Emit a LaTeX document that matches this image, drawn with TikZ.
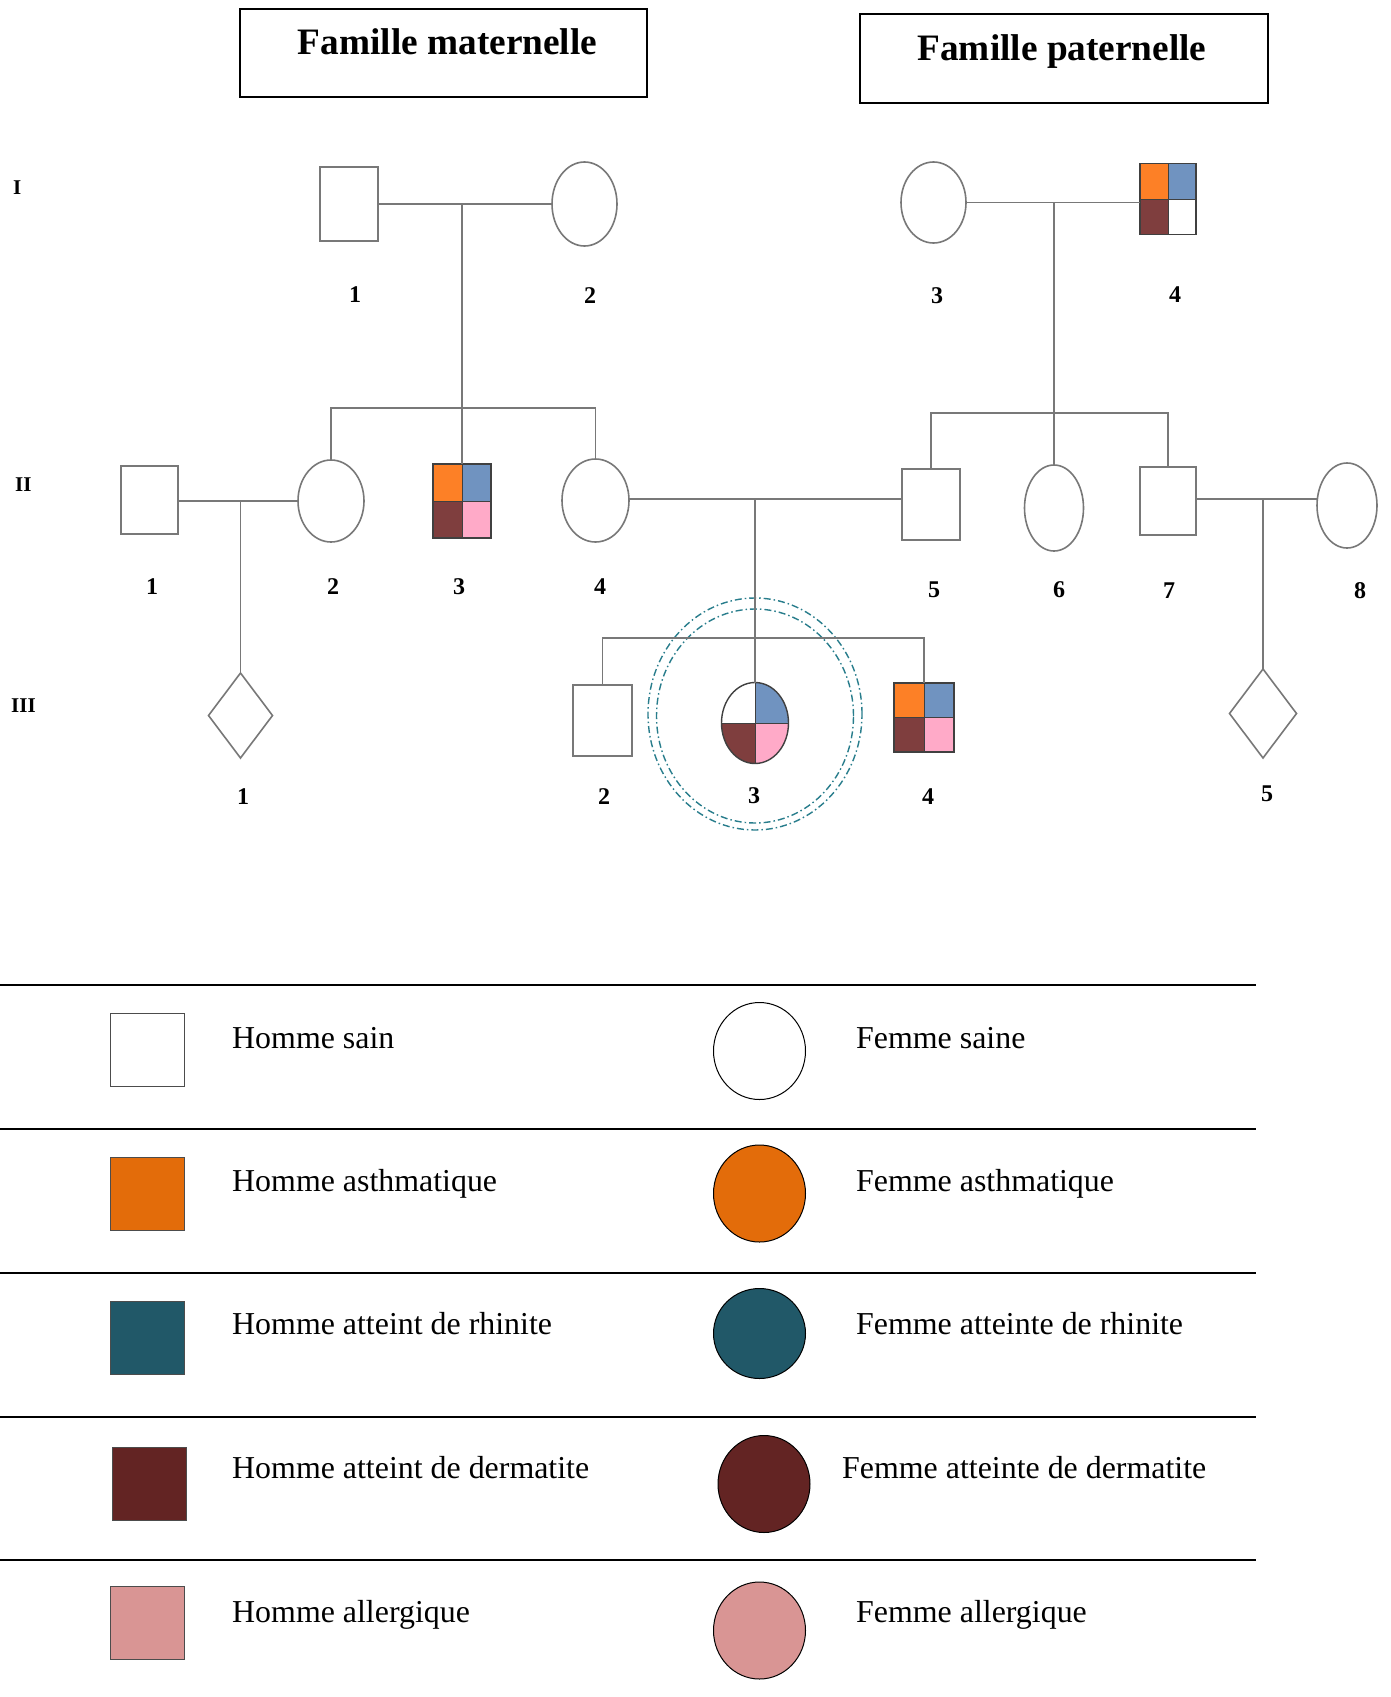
\documentclass[tikz,border=0pt]{standalone}
\usepackage{fontspec}
\setmainfont{Liberation Serif}
\usetikzlibrary{shapes.geometric}
\definecolor{lgray}{RGB}{120,120,120}
\definecolor{qorange}{RGB}{253,128,38}
\definecolor{qblue}{RGB}{112,147,192}
\definecolor{qbrown}{RGB}{127,62,62}
\definecolor{qpink}{RGB}{255,170,200}
\definecolor{lorange}{RGB}{227,108,10}
\definecolor{lteal}{RGB}{33,88,104}
\definecolor{ldark}{RGB}{99,36,35}
\definecolor{lpink}{RGB}{217,149,148}
\definecolor{circteal}{RGB}{40,125,140}
\begin{document}
\begin{tikzpicture}[x=1pt,y=-1pt,
  sz/.style 2 args={minimum width=#1pt, minimum height=#2pt},
  pline/.style={draw=lgray, line width=1.6pt},
  male/.style={rectangle, draw=lgray, line width=1.6pt, inner sep=0pt, outer sep=0pt, fill=white},
  female/.style={ellipse, draw=lgray, line width=1.6pt, inner sep=0pt, outer sep=0pt, fill=white},
  unk/.style={diamond, draw=lgray, line width=1.6pt, inner sep=0pt, outer sep=0pt, fill=white},
  affected/.style={draw=black!75, line width=1.4pt},
  quad/.style n args={4}{path picture={
    \fill[#1] (path picture bounding box.north west) rectangle (path picture bounding box.center);
    \fill[#2] (path picture bounding box.north east) rectangle (path picture bounding box.center);
    \fill[#3] (path picture bounding box.south west) rectangle (path picture bounding box.center);
    \fill[#4] (path picture bounding box.south east) rectangle (path picture bounding box.center);
    \draw[black!75, line width=1pt] (path picture bounding box.north) -- (path picture bounding box.south)
      (path picture bounding box.west) -- (path picture bounding box.east);}},
  num/.style={font=\fontsize{24}{28}\selectfont\bfseries, anchor=base, inner sep=0pt},
  gen/.style={font=\fontsize{21}{24}\selectfont\bfseries, anchor=base west, inner sep=0pt},
  titletext/.style={font=\fontsize{37.3}{42}\selectfont\bfseries, anchor=base, inner sep=0pt},
  frame/.style={rectangle, draw=black, line width=2pt, inner sep=0pt},
  leg/.style={font=\fontsize{31.9}{36}\selectfont, anchor=base west, inner sep=0pt},
  lsq/.style={rectangle, draw=black!70, line width=1pt, minimum width=74pt, minimum height=73pt, inner sep=0pt},
  lci/.style={ellipse, draw=black, line width=1pt, minimum width=92pt, minimum height=97pt, inner sep=0pt},
  sepline/.style={draw=black, line width=2pt},
  proband/.style={ellipse, draw=circteal, line width=1.4pt, inner sep=0pt, dash pattern=on 7pt off 3pt on 1.5pt off 3pt}
]
\useasboundingbox (0,0) rectangle (1391,1697);
\fill[white] (0,0) rectangle (1391,1697);

% titles
\node[frame, sz={407}{88}] (tm) at (443.5,53) {};
\node[titletext] (ttm) at (447.5,54) {Famille maternelle};
\node[frame, sz={408}{89}] (tp) at (1064,58.5) {};
\node[titletext] (ttp) at (1062,60) {Famille paternelle};

% generation labels
\node[gen] (g1) at (13,194) {I};
\node[gen] (g2) at (15,491) {II};
\node[gen] (g3) at (11,712) {III};

% proband marks
\node[proband, sz={214}{232}] (pbo) at (755,714) {};
\node[proband, sz={197}{214}] (pbi) at (755,716) {};

% generation I
\node[male, sz={58}{74}] (I1) at (349,204) {};
\node[female, sz={65}{84}] (I2) at (584.5,204) {};
\node[female, sz={65}{81}] (I3) at (933.5,202.5) {};
\node[male, affected, sz={56}{71}, quad={qorange}{qblue}{qbrown}{white}] (I4) at (1168,199) {};

% generation II
\node[male, sz={57}{68}] (II1) at (149.5,500) {};
\node[female, sz={66}{82}] (II2) at (331,501) {};
\node[male, affected, sz={58}{74}, quad={qorange}{qblue}{qbrown}{qpink}] (II3) at (462,501) {};
\node[female, sz={67}{83}] (II4) at (595.5,500.5) {};
\node[male, sz={58}{71}] (II5) at (931,504.5) {};
\node[female, sz={59}{86}] (II6) at (1054,508) {};
\node[male, sz={56}{68}] (II7) at (1168,501) {};
\node[female, sz={60}{85}] (II8) at (1347,505.5) {};

% generation III
\node[unk, sz={64}{85}] (III1) at (240.5,715.5) {};
\node[male, sz={59}{71}] (III2) at (602.5,720.5) {};
\node[female, draw=black!75, line width=1.4pt, sz={67}{81}, quad={white}{qblue}{qbrown}{qpink}] (III3) at (755,723) {};
\node[male, affected, sz={60}{69}, quad={qorange}{qblue}{qbrown}{qpink}] (III4) at (924,717.5) {};
\node[unk, sz={67}{89}] (III5) at (1263,713.5) {};

% connectors
\coordinate (m1) at (462,204);
\coordinate (s1) at (462,408);
\draw[pline] (I1.east) -- (I2.west);
\draw[pline] (m1) -- (II3.north);
\draw[pline] (II2.north) |- (s1) -| (II4.north);

\coordinate (m2) at (1054,202);
\coordinate (s2) at (1054,413);
\draw[pline] (I3.east) -- (I3.east -| I4.west);
\draw[pline] (m2) -- (II6.north);
\draw[pline] (II5.north) |- (s2) -| (II7.north);

\coordinate (m3) at (240.5,501);
\draw[pline] (II1.east |- m3) -- (II2.west |- m3);
\draw[pline] (m3) -- (III1.north);

\coordinate (m4) at (755,499);
\coordinate (s3) at (755,638);
\draw[pline] (II4.east |- m4) -- (II5.west |- m4);
\draw[pline] (m4) -- (III3.north);
\draw[pline] (III2.north) |- (s3) -| (III4.north);

\coordinate (m5) at (1263,499);
\draw[pline] (II7.east |- m5) -- (II8.west |- m5);
\draw[pline] (m5) -- (III5.north);

% numbers
\node[num] (nI1) at (355,302) {1};
\node[num] (nI2) at (590,303) {2};
\node[num] (nI3) at (937,303) {3};
\node[num] (nI4) at (1175,302) {4};
\node[num] (nII1) at (152,594) {1};
\node[num] (nII2) at (333,594) {2};
\node[num] (nII3) at (459,594) {3};
\node[num] (nII4) at (600,594) {4};
\node[num] (nII5) at (934,597) {5};
\node[num] (nII6) at (1059,597) {6};
\node[num] (nII7) at (1169,598) {7};
\node[num] (nII8) at (1360,598) {8};
\node[num] (nIII1) at (243,804) {1};
\node[num] (nIII2) at (604,804) {2};
\node[num] (nIII3) at (754,803) {3};
\node[num] (nIII4) at (928,804) {4};
\node[num] (nIII5) at (1267,801) {5};

% legend
\coordinate (la) at (0,985);
\coordinate (lb) at (0,1129);
\coordinate (lc) at (0,1273);
\coordinate (ld) at (0,1416.5);
\coordinate (le) at (0,1560);
\foreach \c in {la,lb,lc,ld,le} \draw[sepline] (\c) -- ++(1256,0);

\node[lsq, fill=white] (k1) at (147,1049.5) {};
\node[lsq, fill=lorange] (k2) at (147,1194) {};
\node[lsq, fill=lteal] (k3) at (147,1338) {};
\node[lsq, fill=ldark] (k4) at (149.5,1483.5) {};
\node[lsq, fill=lpink] (k5) at (147,1623) {};

\node[lci, fill=white] (c1) at (759.5,1051) {};
\node[lci, fill=lorange] (c2) at (759.5,1193.5) {};
\node[lci, fill=lteal, minimum height=90pt] (c3) at (759.5,1333.5) {};
\node[lci, fill=ldark] (c4) at (764,1484) {};
\node[lci, fill=lpink] (c5) at (759.5,1630.5) {};

\node[leg] (t1) at (232,1048) {Homme sain};
\node[leg] (t2) at (232,1191) {Homme asthmatique};
\node[leg] (t3) at (232,1334.5) {Homme atteint de rhinite};
\node[leg] (t4) at (232,1478.5) {Homme atteint de dermatite};
\node[leg] (t5) at (232,1622.5) {Homme allergique};
\node[leg] (u1) at (856,1048) {Femme saine};
\node[leg] (u2) at (856,1191) {Femme asthmatique};
\node[leg] (u3) at (856,1334.5) {Femme atteinte de rhinite};
\node[leg] (u4) at (842,1478.5) {Femme atteinte de dermatite};
\node[leg] (u5) at (856,1622.5) {Femme allergique};
\end{tikzpicture}
\end{document}
